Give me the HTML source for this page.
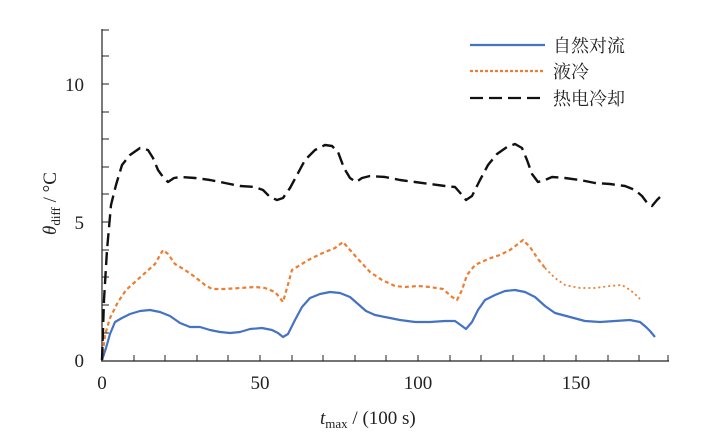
<!DOCTYPE html>
<html><head><meta charset="utf-8"><style>
body{margin:0;background:#fff;}
svg text{font-family:"Liberation Serif","Noto Serif CJK SC",serif;fill:#222;}
</style></head><body>
<svg width="704" height="437" viewBox="0 0 704 437" xmlns="http://www.w3.org/2000/svg">
<g stroke="#222" stroke-width="1.2" fill="none">
<line x1="102" y1="29" x2="102" y2="361"/>
<line x1="101" y1="361" x2="669" y2="361"/>
</g>
<g stroke="#222" stroke-width="1">
<path d="M102 333h7M102 305h7M102 277h7M102 250h7M102 222h7M102 194h7M102 167h7M102 139h7M102 112h7M102 84h7M102 56h7M102 30h7"/>
<path d="M134 361v-6M165 361v-6M197 361v-6M228 361v-6M260 361v-6M292 361v-6M323 361v-6M355 361v-6M386 361v-6M418 361v-6M450 361v-6M481 361v-6M513 361v-6M544 361v-6M576 361v-6M608 361v-6M639 361v-6M668 361v-6"/>
</g>
<g font-size="19" text-anchor="middle">
<text x="102" y="389">0</text><text x="260" y="389">50</text><text x="418" y="389">100</text><text x="576" y="389">150</text>
</g>
<g font-size="19" text-anchor="end">
<text x="84" y="367">0</text><text x="84" y="229">5</text><text x="84" y="91">10</text>
</g>
<text x="320" y="424" font-size="19"><tspan font-style="italic">t</tspan><tspan font-size="13" dy="4">max</tspan><tspan dy="-4"> / (100 s)</tspan></text>
<text transform="translate(56,235) rotate(-90)" font-size="19"><tspan font-style="italic">θ</tspan><tspan font-size="13" dy="4">diff</tspan><tspan dy="-4"> / °C</tspan></text>
<g fill="none" stroke-linejoin="round">
<polyline stroke="#4472C4" stroke-width="2.2" points="102,360 106,348 110,334 115,322 122,318 130,314 140,311 150,310 160,312 170,316 180,323 190,327 200,327 210,330 220,332 230,333 240,332 250,329 262,328 272,330 278,333 283,337 288,334 295,320 302,307 310,298 320,294 330,292 340,293 350,297 358,304 366,311 375,315 390,318 400,320 415,322 430,322 445,321 455,321 462,326 466,329 472,322 478,310 485,300 495,295 505,291 515,290 525,292 535,297 545,306 555,313 570,317 585,321 600,322 615,321 630,320 640,322 646,327 650,331 655,337"/>
<polyline stroke="#ED7D31" stroke-width="2.2" stroke-dasharray="4,3" points="102,360 105,335 110,318 118,302 126,290 135,282 145,273 155,264 163,250 168,254 175,264 185,270 195,277 205,285 212,289 225,289 240,288 255,287 265,288 275,292 280,298 283,302 287,288 292,270 300,265 312,258 325,252 335,248 343,242 350,250 358,259 370,272 382,280 395,286 405,287 418,286 430,287 443,289 452,297 457,300 462,290 467,275 475,265 488,259 500,255 510,250 518,244 523,240 530,247 538,259 545,268"/>
<polyline stroke="#ED7D31" stroke-width="1.8" stroke-dasharray="2,3" points="545,268 555,278 565,285 580,288 595,288 610,286 622,285 630,290 636,295 640,299"/>
<polyline stroke="#111" stroke-width="2.4" stroke-dasharray="13,6" points="102,360 104,300 107,250 111,205 116,185 122,165 130,155 140,148 148,150 153,158 158,170 163,177 168,182 174,178 180,177 195,178 210,180 225,183 240,186 255,187 263,190 270,197 277,200 283,198 290,188 297,175 305,160 315,150 325,145 332,146 338,152 344,168 350,178 356,182 362,178 370,176 385,177 400,180 415,182 430,184 445,186 455,187 462,195 466,200 472,196 480,180 488,165 497,154 507,147 515,144 522,148 527,160 532,174 538,182 545,180 552,177 565,178 580,180 595,183 610,184 625,186 635,190 642,196 648,204 652,206 657,200 660,197"/>
</g>
<g stroke-width="2.2" fill="none">
<line x1="470" y1="45" x2="545" y2="45" stroke="#4472C4"/>
<line x1="470" y1="71" x2="545" y2="71" stroke="#ED7D31" stroke-dasharray="3,2"/>
<line x1="470" y1="98" x2="545" y2="98" stroke="#111" stroke-dasharray="13,6"/>
</g>
<g font-size="18">
<text x="553" y="52">自然对流</text>
<text x="553" y="78">液冷</text>
<text x="553" y="105">热电冷却</text>
</g>
</svg>
</body></html>
